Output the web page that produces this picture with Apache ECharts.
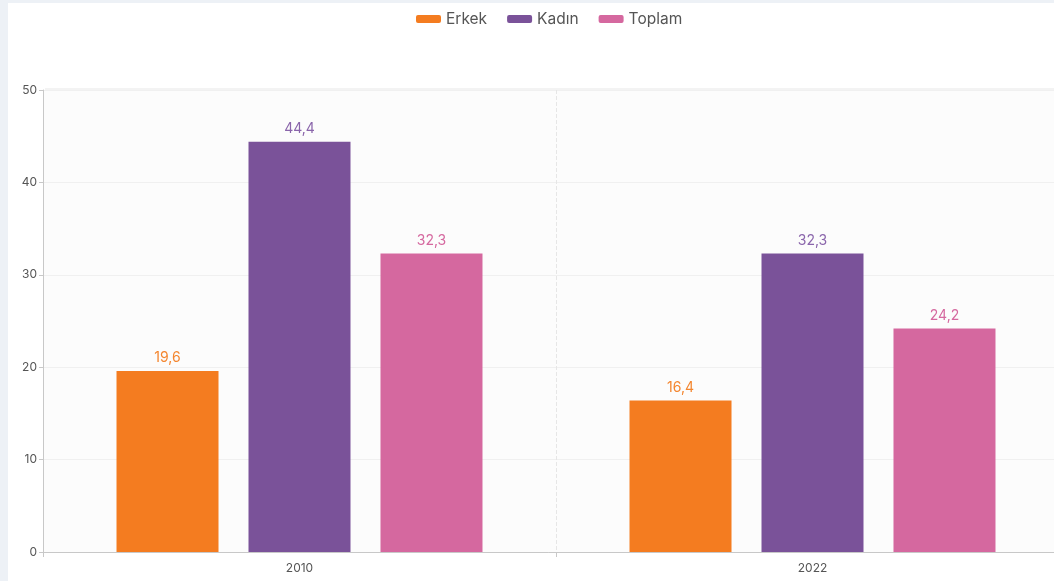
<!DOCTYPE html>
<html>
<head>
<meta charset="utf-8">
<script src="https://cdn.jsdelivr.net/npm/echarts@6/dist/echarts.min.js"></script>
<style>
html,body{margin:0;padding:0;background:#ffffff;}
#c{width:1054px;height:581px;}
</style>
</head>
<body>
<div id="c"></div>
<script>
const categories = ['2010', '2022'];
const erkek = [19.6, 16.4];
const kadin = [44.4, 32.3];
const toplam = [32.3, 24.2];
const yTicks = [0, 10, 20, 30, 40, 50];

const chart = echarts.init(document.getElementById('c'));
const fontFam = 'Inter, "Noto Sans", sans-serif';
function fmt(p){ return String(p.value).replace('.', ','); }
function mk(name, data, color, labelColor){
  return {
    name: name, type: 'bar', data: data, barWidth: 102, barGap: '29.4%',
    itemStyle: {color: color},
    label: {show: true, position: 'top', distance: 6, color: labelColor, fontSize: 14, fontFamily: fontFam, formatter: fmt}
  };
}
chart.setOption({
  backgroundColor: '#ffffff',
  animation: false,
  textStyle: {fontFamily: fontFam},
  graphic: [
    {type: 'rect', left: 0, top: 0, shape: {width: 1054, height: 3}, style: {fill: '#edf1f6'}, z: -10},
    {type: 'rect', left: 0, top: 0, shape: {width: 8, height: 581}, style: {fill: '#edf1f6'}, z: -10},
    {type: 'rect', left: 45, top: 88, shape: {width: 1009, height: 6}, style: {fill: '#f3f3f3'}, z: -5}
  ],
  legend: {
    top: 6, left: 411, itemWidth: 25, itemHeight: 8, itemGap: 20,
    icon: 'roundRect',
    textStyle: {color: '#555', fontSize: 15.5, fontFamily: fontFam},
    data: ['Erkek', 'Kadın', 'Toplam']
  },
  grid: {left: 43, right: -15, top: 90, bottom: 29, show: true, backgroundColor: '#fcfcfc', borderWidth: 0, outerBoundsMode: 'none', containLabel: false},
  xAxis: {
    type: 'category', data: categories,
    axisLine: {lineStyle: {color: '#c8c8c8'}},
    axisTick: {show: true, lineStyle: {color: '#c8c8c8'}},
    axisLabel: {color: '#555', fontSize: 12, margin: 10},
    splitLine: {show: true, lineStyle: {color: '#e6e6e6', type: 'dashed'}}
  },
  yAxis: {
    type: 'value', min: 0, max: 50, interval: 10,
    axisLine: {show: true, lineStyle: {color: '#c8c8c8'}},
    axisTick: {show: true, length: 4, lineStyle: {color: '#c8c8c8'}},
    axisLabel: {color: '#555', fontSize: 12, margin: 6, formatter: v => yTicks.indexOf(v) >= 0 ? String(v) : ''},
    splitLine: {show: true, lineStyle: {color: '#f0f0f0'}}
  },
  series: [
    mk('Erkek', erkek, '#f47c20', '#f4862f'),
    mk('Kadın', kadin, '#7a5299', '#8a65ab'),
    mk('Toplam', toplam, '#d5689f', '#d5689f')
  ]
});
</script>
</body>
</html>
